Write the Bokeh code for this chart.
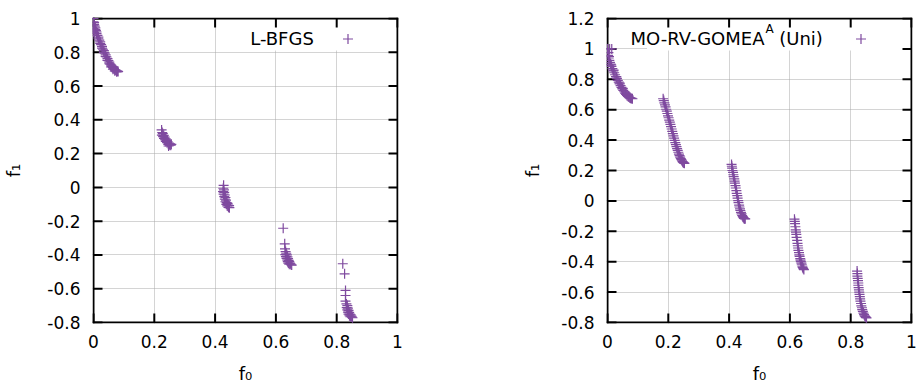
from bokeh.plotting import figure
from bokeh.layouts import row
from bokeh.models import (ColumnDataSource, FixedTicker, Range1d,
                          Label, Legend, LegendItem, BoxAnnotation)
from bokeh.embed import file_html
from bokeh.resources import INLINE

FONT = "DejaVu Sans"
PURPLE = "#7f4a9f"
GRID = "#a8a8a8"

# ---------------- data ----------------
x_ticks = [0, 0.2, 0.4, 0.6, 0.8, 1]
x_tick_labels = ["0", "0.2", "0.4", "0.6", "0.8", "1"]
y_ticks_lbfgs = [-0.8, -0.6, -0.4, -0.2, 0, 0.2, 0.4, 0.6, 0.8, 1]
y_tick_labels_lbfgs = ["-0.8", "-0.6", "-0.4", "-0.2", "0", "0.2", "0.4", "0.6", "0.8", "1"]
y_ticks_gomea = [-0.8, -0.6, -0.4, -0.2, 0, 0.2, 0.4, 0.6, 0.8, 1, 1.2]
y_tick_labels_gomea = ["-0.8", "-0.6", "-0.4", "-0.2", "0", "0.2", "0.4", "0.6", "0.8", "1", "1.2"]

series_names = ["L-BFGS", "MO-RV-GOMEA", "A", "(Uni)"]
x_label = "f\u2080"
y_label = "f\u2081"

lbfgs_f0 = [
    0.000, 0.000, 0.000, 0.000, 0.001, 0.002, 0.002, 0.004, 0.006, 0.006, 0.008, 0.010, 0.010,
    0.013, 0.016, 0.016, 0.019, 0.022, 0.022, 0.025, 0.028, 0.028, 0.031, 0.034, 0.034, 0.037,
    0.040, 0.040, 0.043, 0.046, 0.046, 0.049, 0.052, 0.052, 0.055, 0.058, 0.058, 0.061, 0.064,
    0.064, 0.067, 0.070, 0.070, 0.073, 0.076, 0.076, 0.079, 0.081,
    0.224, 0.226, 0.225, 0.228, 0.229, 0.231, 0.232, 0.234, 0.235, 0.237, 0.238, 0.240, 0.242,
    0.244, 0.246, 0.248, 0.250, 0.252, 0.254, 0.256, 0.247,
    0.428, 0.427, 0.429, 0.426, 0.430, 0.428, 0.432, 0.430, 0.434, 0.432, 0.436, 0.434, 0.438,
    0.441, 0.437, 0.443, 0.440, 0.446, 0.444, 0.447,
    0.624, 0.629, 0.630, 0.632, 0.634, 0.631, 0.636, 0.633, 0.638, 0.635, 0.640, 0.637, 0.642,
    0.639, 0.644, 0.641, 0.646, 0.648, 0.644, 0.650, 0.652,
    0.820, 0.826, 0.829, 0.829, 0.829, 0.832, 0.835, 0.833, 0.837, 0.835, 0.839, 0.837, 0.841,
    0.839, 0.843, 0.846, 0.842, 0.848, 0.845, 0.850, 0.852,
]
lbfgs_f1 = [
    1.000, 0.980, 0.960, 0.940, 0.920, 0.975, 0.965, 0.955, 0.945, 0.935, 0.928, 0.920, 0.910,
    0.900, 0.890, 0.880, 0.872, 0.862, 0.852, 0.845, 0.835, 0.825, 0.818, 0.810, 0.800, 0.795,
    0.785, 0.775, 0.772, 0.762, 0.752, 0.750, 0.742, 0.732, 0.730, 0.724, 0.714, 0.715, 0.710,
    0.700, 0.703, 0.698, 0.690, 0.694, 0.690, 0.684, 0.688, 0.686,
    0.340, 0.325, 0.310, 0.318, 0.300, 0.308, 0.290, 0.298, 0.282, 0.288, 0.272, 0.278, 0.265,
    0.270, 0.255, 0.262, 0.252, 0.258, 0.250, 0.255, 0.245,
    0.012, -0.005, -0.015, -0.025, -0.030, -0.040, -0.045, -0.055, -0.060, -0.070, -0.075, -0.085,
    -0.090, -0.095, -0.100, -0.105, -0.110, -0.108, -0.118, -0.120,
    -0.242, -0.334, -0.364, -0.380, -0.390, -0.398, -0.400, -0.410, -0.412, -0.420, -0.422, -0.430,
    -0.432, -0.440, -0.440, -0.448, -0.448, -0.452, -0.455, -0.458, -0.460,
    -0.452, -0.512, -0.610, -0.640, -0.674, -0.690, -0.700, -0.712, -0.715, -0.725, -0.728, -0.738,
    -0.740, -0.750, -0.750, -0.755, -0.760, -0.762, -0.766, -0.768, -0.772,
]

gomea_f0 = [
    0.000, 0.007, 0.014, 0.002, 0.003, 0.004, 0.005, 0.006, 0.008, 0.010, 0.012, 0.013, 0.016,
    0.019, 0.020, 0.022, 0.025, 0.028, 0.030, 0.031, 0.034, 0.037, 0.040, 0.040, 0.043, 0.046,
    0.049, 0.050, 0.052, 0.055, 0.058, 0.060, 0.061, 0.064, 0.067, 0.070, 0.070, 0.073, 0.076,
    0.079, 0.082,
    0.183, 0.185, 0.187, 0.189, 0.191, 0.193, 0.195, 0.197, 0.199, 0.201, 0.203, 0.205, 0.207,
    0.209, 0.211, 0.213, 0.215, 0.217, 0.219, 0.221, 0.223, 0.225, 0.227, 0.229, 0.231, 0.233,
    0.235, 0.237, 0.239, 0.241, 0.243, 0.245, 0.247, 0.249, 0.251, 0.253,
    0.408, 0.409, 0.410, 0.411, 0.413, 0.414, 0.415, 0.417, 0.418, 0.419, 0.421, 0.422, 0.424,
    0.425, 0.427, 0.428, 0.430, 0.431, 0.433, 0.434, 0.436, 0.437, 0.439, 0.441, 0.443, 0.445,
    0.447, 0.449, 0.451, 0.453,
    0.615, 0.616, 0.617, 0.618, 0.619, 0.620, 0.621, 0.622, 0.624, 0.625, 0.626, 0.627, 0.628,
    0.630, 0.631, 0.632, 0.634, 0.635, 0.636, 0.638, 0.639, 0.641, 0.642, 0.644, 0.646,
    0.821, 0.822, 0.822, 0.823, 0.824, 0.825, 0.825, 0.826, 0.827, 0.828, 0.829, 0.830, 0.831,
    0.832, 0.834, 0.835, 0.837, 0.838, 0.840, 0.842, 0.844, 0.846, 0.848, 0.850, 0.852,
]
gomea_f1 = [
    1.000, 1.000, 1.000, 0.958, 0.975, 0.940, 0.950, 0.924, 0.912, 0.900, 0.895, 0.885, 0.870,
    0.856, 0.860, 0.843, 0.830, 0.817, 0.815, 0.805, 0.793, 0.781, 0.769, 0.775, 0.758, 0.747,
    0.737, 0.740, 0.727, 0.718, 0.709, 0.710, 0.701, 0.694, 0.688, 0.683, 0.690, 0.679, 0.676,
    0.674, 0.672,
    0.672, 0.660, 0.645, 0.632, 0.618, 0.603, 0.590, 0.575, 0.560, 0.547, 0.532, 0.518, 0.503,
    0.488, 0.473, 0.458, 0.443, 0.428, 0.413, 0.398, 0.384, 0.370, 0.357, 0.344, 0.332, 0.320,
    0.308, 0.298, 0.288, 0.279, 0.271, 0.264, 0.258, 0.253, 0.250, 0.247,
    0.240, 0.228, 0.215, 0.200, 0.188, 0.172, 0.160, 0.145, 0.130, 0.117, 0.100, 0.085, 0.068,
    0.050, 0.035, 0.018, 0.002, -0.012, -0.028, -0.040, -0.053, -0.063, -0.075, -0.086, -0.096,
    -0.104, -0.110, -0.115, -0.117, -0.118,
    -0.120, -0.135, -0.150, -0.170, -0.190, -0.205, -0.220, -0.240, -0.260, -0.280, -0.295, -0.310,
    -0.325, -0.340, -0.355, -0.365, -0.380, -0.390, -0.400, -0.410, -0.420, -0.430, -0.438, -0.445,
    -0.452,
    -0.462, -0.478, -0.495, -0.510, -0.525, -0.540, -0.555, -0.570, -0.585, -0.600, -0.615, -0.630,
    -0.645, -0.660, -0.675, -0.690, -0.703, -0.715, -0.727, -0.738, -0.748, -0.756, -0.762, -0.766,
    -0.769,
]

FRAME = 306          # frame size in px (line centres 304 px apart)
TICK_PX = 9


def panel(f0, f1, ymin, ymax, yticks, ylabels, b_left, b_right, yl_standoff,
          box_left, box_bottom, leg_loc):
    px_x = 1.0 / (FRAME - 2)                 # one pixel in data units
    px_y = (ymax - ymin) / (FRAME - 2)
    p = figure(frame_width=FRAME, frame_height=FRAME,
               min_border_left=b_left, min_border_right=b_right,
               min_border_top=17, min_border_bottom=65,
               x_range=Range1d(-px_x, 1 + px_x), y_range=Range1d(ymin - px_y, ymax + px_y),
               output_backend="svg", toolbar_location=None, tools="",
               background_fill_color="white", border_fill_color="white",
               outline_line_color=None)
    p.xaxis.ticker = FixedTicker(ticks=x_ticks)
    p.yaxis.ticker = FixedTicker(ticks=yticks)
    p.xaxis.major_label_overrides = dict(zip(x_ticks, x_tick_labels))
    p.yaxis.major_label_overrides = dict(zip(yticks, ylabels))
    for ax in (p.xaxis[0], p.yaxis[0]):
        ax.major_tick_in = 0
        ax.major_tick_out = 0
        ax.major_tick_line_color = None
        ax.minor_tick_line_color = None
        ax.axis_line_color = None
        ax.major_label_text_font = FONT
        ax.major_label_text_font_size = "17px"
        ax.major_label_text_color = "black"
        ax.axis_label_text_font = FONT
        ax.axis_label_text_font_size = "18px"
        ax.axis_label_text_font_style = "normal"
        ax.axis_label_text_color = "black"
    p.xaxis.major_label_standoff = 11
    p.yaxis.major_label_standoff = 12
    p.xaxis.axis_label = x_label
    p.xaxis.axis_label_standoff = 12
    p.yaxis.axis_label = y_label
    p.yaxis.axis_label_standoff = yl_standoff

    p.grid.grid_line_color = GRID
    p.grid.grid_line_width = 1
    p.grid.grid_line_dash = "1 1"

    # white key area hides the grid lines behind the key (as in gnuplot)
    p.add_layout(BoxAnnotation(left=box_left, right=1, bottom=box_bottom, top=ymax,
                               fill_color="white", fill_alpha=1, line_color=None,
                               level="underlay"))

    # inward tick marks on all four sides, drawn as thin filled bars (2 px x 9 px)
    tx = TICK_PX * px_x
    ty = TICK_PX * px_y
    nx, ny = len(x_ticks), len(yticks)
    xl = [t - px_x for t in x_ticks]
    xr = [t + px_x for t in x_ticks]
    yb = [t - px_y for t in yticks]
    yt = [t + px_y for t in yticks]
    p.quad(left=xl, right=xr, bottom=[ymin] * nx, top=[ymin + ty] * nx,
           fill_color="black", line_color=None)
    p.quad(left=xl, right=xr, bottom=[ymax - ty] * nx, top=[ymax] * nx,
           fill_color="black", line_color=None)
    p.quad(left=[0] * ny, right=[tx] * ny, bottom=yb, top=yt,
           fill_color="black", line_color=None)
    p.quad(left=[1 - tx] * ny, right=[1] * ny, bottom=yb, top=yt,
           fill_color="black", line_color=None)

    # frame border: four 2-px filled bars along the frame edges
    x0, x1 = -px_x, 1 + px_x
    y0, y1 = ymin - px_y, ymax + px_y
    bars = [(x0, x0 + 2 * px_x, y0, y1), (x1 - 2 * px_x, x1, y0, y1),
            (x0, x1, y0, y0 + 2 * px_y), (x0, x1, y1 - 2 * px_y, y1)]
    p.quad(left=[b[0] for b in bars], right=[b[1] for b in bars],
           bottom=[b[2] for b in bars], top=[b[3] for b in bars],
           fill_color="black", line_color=None)

    src = ColumnDataSource(dict(f0=f0, f1=f1))
    r = p.scatter(x="f0", y="f1", source=src, marker="cross", size=10,
                  line_color=PURPLE, line_width=1.2)

    legend = Legend(items=[LegendItem(label=" ", renderers=[r])],
                    location=leg_loc, padding=0, margin=0, spacing=0,
                    border_line_color=None, background_fill_alpha=0,
                    glyph_width=25, glyph_height=25, label_standoff=0,
                    label_width=0, label_height=20, label_text_font_size="1px")
    p.add_layout(legend)
    return p


p1 = panel(lbfgs_f0, lbfgs_f1, -0.8, 1, y_ticks_lbfgs, y_tick_labels_lbfgs,
           92, 10, 20, 0.49, 0.81, (243, 272))
p1.add_layout(Label(x=0.7247, y=0.8816, text=series_names[0], text_align="right",
                    text_baseline="middle", text_font=FONT, text_font_size="18px",
                    text_color="black"))

p2 = panel(gomea_f0, gomea_f1, -0.8, 1.2, y_ticks_gomea, y_tick_labels_gomea,
           198, 6, 15, 0.13, 0.99, (242, 272))
p2.add_layout(Label(x=0.5164, y=1.068, text=series_names[1], text_align="right",
                    text_baseline="middle", text_font=FONT, text_font_size="18px",
                    text_color="black"))
p2.add_layout(Label(x=0.5197, y=1.1316, text=series_names[2], text_align="left",
                    text_baseline="middle", text_font=FONT, text_font_size="12px",
                    text_color="black"))
p2.add_layout(Label(x=0.5648, y=1.068, text=series_names[3], text_align="left",
                    text_baseline="middle", text_font=FONT, text_font_size="18px",
                    text_color="black"))

layout = row(p1, p2)
open("out.html", "w").write(file_html(layout, INLINE))
